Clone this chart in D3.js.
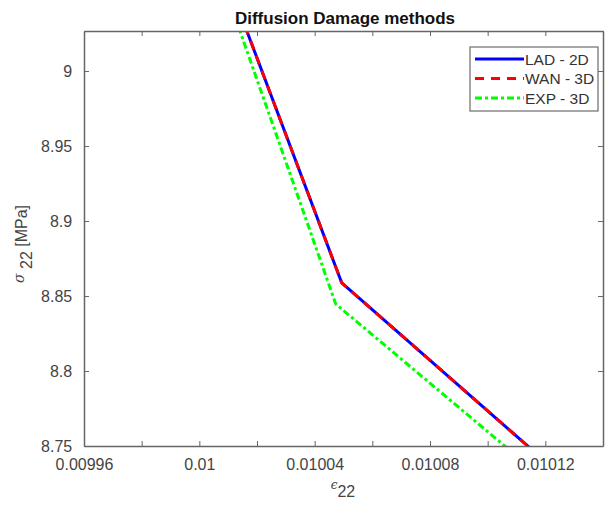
<!DOCTYPE html>
<html>
<head>
<meta charset="utf-8">
<script src="https://cdn.jsdelivr.net/npm/d3@7"></script>
<style>
  body { margin: 0; background: #fff; }
  text { font-family: "Liberation Sans", Arial, sans-serif; }
</style>
</head>
<body>
<div id="chart"></div>
<script>
// strain values (eps_22) and stress values (sigma_22, MPa)
const ladStrain = [0.0100021, 0.0100494, 0.0101317];
const ladStress = [9.10, 8.8587, 8.72];
const wanStrain = [0.0100021, 0.0100494, 0.0101317];
const wanStress = [9.10, 8.8587, 8.72];
const expStrain = [0.0100007, 0.0100473, 0.0101245];
const expStress = [9.10, 8.8447, 8.72];

const xMajorTicks = [0.00996, 0.01, 0.01004, 0.01008, 0.01012];
const xTicks = [0.00996, 0.00998, 0.01, 0.01002, 0.01004, 0.01006, 0.01008, 0.0101, 0.01012, 0.01014];
const yTicks = [8.75, 8.8, 8.85, 8.9, 8.95, 9];

const series = [
  { name: "LAD - 2D", x: ladStrain, y: ladStress, color: "#0000ff", dash: null, width: 3 },
  { name: "WAN - 3D", x: wanStrain, y: wanStress, color: "#ff0000", dash: "9,7", width: 3 },
  { name: "EXP - 3D", x: expStrain, y: expStress, color: "#00ff00", dash: "7,3,3,3", width: 3 }
];

const W = 605, H = 509;
const margin = { top: 31, right: 2, bottom: 63, left: 84 };
const width = W - margin.left - margin.right;
const height = H - margin.top - margin.bottom;

const svg = d3.select("#chart").append("svg")
  .attr("width", W)
  .attr("height", H);

const g = svg.append("g")
  .attr("transform", "translate(" + margin.left + "," + margin.top + ")");

const x = d3.scaleLinear().domain([0.00996, 0.01014]).range([0, width]);
const y = d3.scaleLinear().domain([8.75, 9.0267]).range([height, 0]);

const axisColor = "#666";
const textColor = "#444";

// clip lines to the plot box
g.append("clipPath").attr("id", "clip")
  .append("rect").attr("width", width).attr("height", height);

const line = d3.line().x(d => x(d[0])).y(d => y(d[1]));

series.forEach(s => {
  const pts = s.x.map((v, i) => [v, s.y[i]]);
  g.append("path")
    .datum(pts)
    .attr("clip-path", "url(#clip)")
    .attr("fill", "none")
    .attr("stroke", s.color)
    .attr("stroke-width", s.width)
    .attr("stroke-dasharray", s.dash)
    .attr("d", line);
});

// bottom axis, ticks pointing inward
const xAxis = g.append("g")
  .attr("transform", "translate(0," + height + ")")
  .call(d3.axisBottom(x).tickValues(xTicks).tickSizeInner(-5).tickSizeOuter(0)
    .tickFormat(d => xMajorTicks.some(m => Math.abs(m - d) < 1e-9) ? d3.format("")(+d.toPrecision(6)) : ""));
xAxis.selectAll("text").attr("dy", "1.3em");

// top axis
const xTop = g.append("g")
  .call(d3.axisTop(x).tickValues(xTicks).tickSizeInner(-5).tickSizeOuter(0).tickFormat(""));

// left axis
const yAxis = g.append("g")
  .call(d3.axisLeft(y).tickValues(yTicks).tickSizeInner(-5).tickSizeOuter(0)
    .tickFormat(d => d3.format("")(+d.toPrecision(4))));
yAxis.selectAll("text").attr("dx", "-0.55em");

// right axis
const yRight = g.append("g")
  .attr("transform", "translate(" + width + ",0)")
  .call(d3.axisRight(y).tickValues(yTicks).tickSizeInner(-5).tickSizeOuter(0).tickFormat(""));

[xAxis, xTop, yAxis, yRight].forEach(a => {
  a.select(".domain").attr("stroke", axisColor).attr("stroke-width", 1.5);
  a.selectAll(".tick line").attr("stroke", axisColor);
  a.selectAll("text").attr("fill", textColor).style("font-size", "16px");
});

// title
svg.append("text")
  .attr("x", 345)
  .attr("y", 24)
  .attr("text-anchor", "middle")
  .style("font-size", "17px")
  .style("font-weight", "bold")
  .attr("fill", "#111")
  .text("Diffusion Damage methods");

// x label
const xl = svg.append("text")
  .attr("x", 343)
  .attr("y", 494)
  .attr("text-anchor", "middle")
  .attr("fill", textColor)
  .style("font-size", "16px");
xl.append("tspan").style("font-style", "italic").style("font-family", "DejaVu Serif").style("font-size", "12px").attr("dy", "-5").text("ϵ");
xl.append("tspan").attr("dy", "8").text("22");

// y label
const yl = svg.append("text")
  .attr("transform", "translate(27,244) rotate(-90)")
  .attr("text-anchor", "middle")
  .attr("fill", textColor)
  .style("font-size", "16px");
yl.append("tspan").style("font-style", "italic").style("font-family", "DejaVu Serif").style("font-size", "14px").attr("dy", "-3").text("σ");
yl.append("tspan").attr("dy", "8").text(" 22");
yl.append("tspan").attr("dy", "-5").text(" [MPa]");

// legend
const lg = svg.append("g").attr("transform", "translate(470,47)");
lg.append("rect")
  .attr("width", 128).attr("height", 64)
  .attr("fill", "#fff")
  .attr("stroke", "#777")
  .attr("stroke-width", 1.3);
series.forEach((s, i) => {
  const row = lg.append("g").attr("transform", "translate(0," + (12 + i * 19.5) + ")");
  row.append("line")
    .attr("x1", 5).attr("x2", 54)
    .attr("stroke", s.color)
    .attr("stroke-width", s.width)
    .attr("stroke-dasharray", s.dash);
  row.append("text")
    .attr("x", 55).attr("dy", "0.36em")
    .attr("fill", "#333")
    .style("font-size", "15.5px")
    .text(s.name);
});
</script>
</body>
</html>
